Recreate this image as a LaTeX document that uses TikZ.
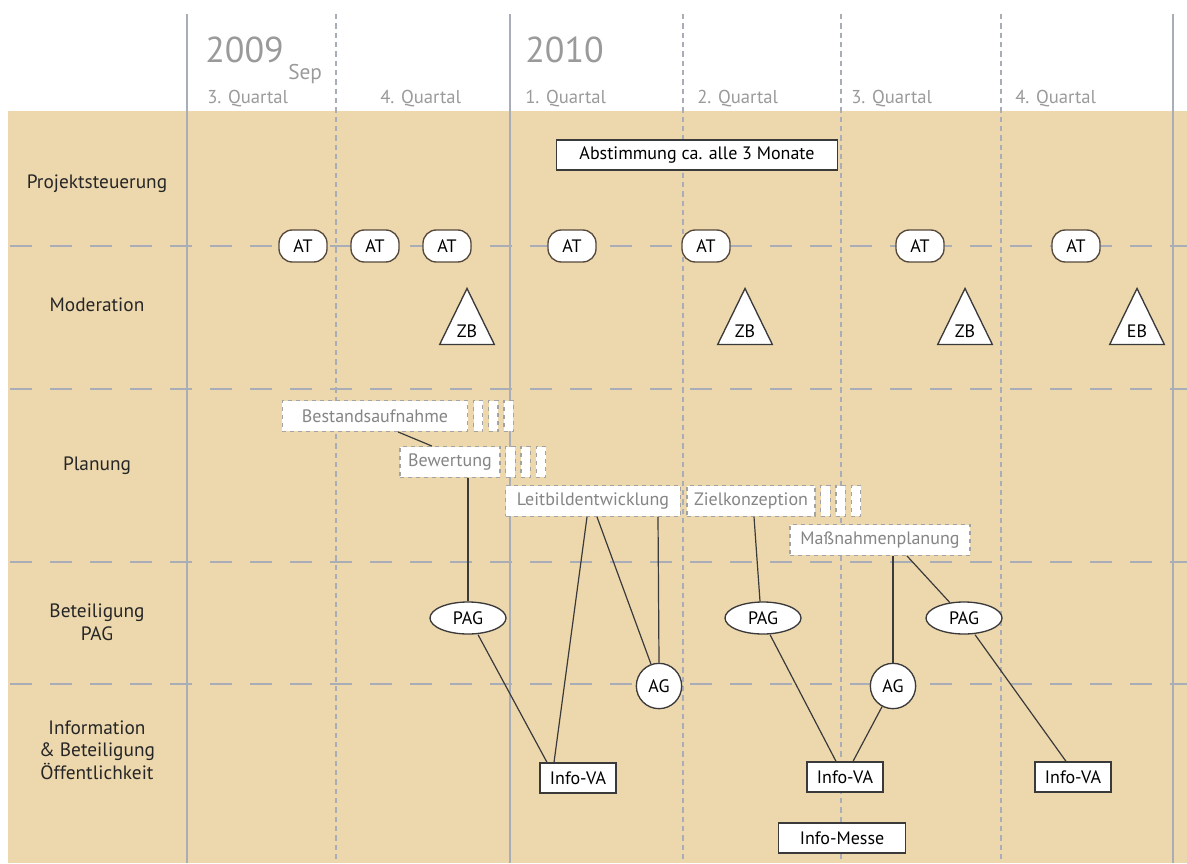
\documentclass[tikz,border=0pt]{standalone}
\usepackage{fontspec}
\setmainfont{PT Sans}
\usepackage{tikz}
\usetikzlibrary{positioning,shapes.geometric,calc}

\definecolor{sand}{HTML}{EDD8AE}
\definecolor{gridgray}{HTML}{A9ADB8}
\definecolor{timegray}{HTML}{9A9A9A}
\definecolor{planline}{HTML}{A3A3A3}
\definecolor{plantext}{HTML}{858585}
\definecolor{edgeline}{HTML}{3A3A3A}

\begin{document}
\begin{tikzpicture}[x=0.75pt,y=-0.75pt,font=\fontsize{13.5}{16}\selectfont,
	grid/.style={gridgray,line width=0.9pt},
	griddash/.style={gridgray,line width=0.8pt,dash pattern=on 4pt off 3pt},
	rowdash/.style={gridgray,line width=0.8pt,dash pattern=on 16.5pt off 13.5pt},
	year/.style={text=timegray,anchor=base west,inner sep=0pt},
	quarter/.style={text=timegray,anchor=base west,inner sep=0pt,font=\fontsize{14}{16}\selectfont},
	row/.style={align=center,text=black!85,font=\fontsize{14.5}{17}\selectfont},
	box/.style={draw=edgeline,fill=white,line width=1pt,minimum height=22.5pt,inner xsep=5pt},
	meet/.style={draw=edgeline!80!brown,fill=white,line width=1pt,rounded corners=10pt,minimum width=36pt,minimum height=24pt},
	tri/.style={draw=edgeline,fill=white,line width=1pt,isosceles triangle,isosceles triangle apex angle=54,shape border rotate=90,isosceles triangle stretches,minimum width=41pt,minimum height=42pt,inner sep=1pt,anchor=apex},
	plan/.style={draw=planline,dashed,fill=white,text=plantext,line width=0.9pt,minimum height=23pt},
	tick/.style={draw=planline,dashed,fill=white,line width=0.9pt,minimum width=7pt,minimum height=23pt,inner sep=0pt},
	pag/.style={ellipse,draw=edgeline,fill=white,line width=1pt,minimum width=57pt,minimum height=24pt,inner sep=0pt},
	ag/.style={circle,draw=edgeline,fill=white,line width=1pt,minimum size=34pt,inner sep=0pt},
	conn/.style={draw=edgeline,line width=0.9pt}] 
	\useasboundingbox (0,0) rectangle (1187,863);
	% background and grid
	\fill[sand] (8,111) rectangle (1187,863);
	\draw[grid] (187,14) -- (187,863) (510,14) -- (510,863) (1173,14) -- (1173,863);
	\draw[griddash] (336,14) -- (336,863) (683,14) -- (683,863) (841,14) -- (841,863) (1001,14) -- (1001,863);
	\draw[rowdash] (10,246) -- (1187,246) (10,389) -- (1187,389) (10,562) -- (1187,562) (10,684) -- (1187,684);
	% time axis
	\node[year,font=\fontsize{27}{30}\selectfont] (y_2009) at (205,63) {2009};
	\node[year,font=\fontsize{16}{18}\selectfont] (sep) at (288,80) {Sep};
	\node[year,font=\fontsize{27}{30}\selectfont] (y_2010) at (525,63) {2010};
	\node[quarter] (q_3a) at (207,104) {3. Quartal};
	\node[quarter] (q_4a) at (380,104) {4. Quartal};
	\node[quarter] (q_1) at (525,104) {1. Quartal};
	\node[quarter] (q_2) at (697,104) {2. Quartal};
	\node[quarter] (q_3b) at (851,104) {3. Quartal};
	\node[quarter] (q_4b) at (1015,104) {4. Quartal};
	% rows
	\node[row] (r_steuer) at (97,184) {Projektsteuerung};
	\node[row] (r_mod) at (97,305) {Moderation};
	\node[row] (r_plan) at (97,466) {Planung};
	\node[row] (r_pag) at (97,622) {Beteiligung\\PAG};
	\node[row] (r_oeff) at (97,750) {Information\\\& Beteiligung\\Öffentlichkeit};
	% Projektsteuerung / Moderation
	\node[box,minimum width=211pt] (abst) at (697,155) {Abstimmung ca. alle 3 Monate};
	\node[meet] (at_1) at (303,246) {AT};
	\node[meet] (at_2) at (375,246) {AT};
	\node[meet] (at_3) at (447,246) {AT};
	\node[meet] (at_4) at (572,246) {AT};
	\node[meet] (at_5) at (706,246) {AT};
	\node[meet] (at_6) at (920,246) {AT};
	\node[meet] (at_7) at (1076,246) {AT};
	\node[tri] (zb_1) at (467,287) {ZB};
	\node[tri] (zb_2) at (745,287) {ZB};
	\node[tri] (zb_3) at (965,287) {ZB};
	\node[tri] (eb) at (1137,287) {EB};
	% Planung
	\node[plan,minimum width=139pt] (bestand) at (375,416) {Bestandsaufnahme};
	\node[tick,right=3.5pt of bestand] (t_a1) {};
	\node[tick,right=3.5pt of t_a1] (t_a2) {};
	\node[tick,right=3.5pt of t_a2] (t_a3) {};
	\node[plan,minimum width=75pt] (bewert) at (450,462) {Bewertung};
	\node[tick,right=3.5pt of bewert] (t_b1) {};
	\node[tick,right=3.5pt of t_b1] (t_b2) {};
	\node[tick,right=3.5pt of t_b2] (t_b3) {};
	\node[plan,minimum width=131pt] (leitbild) at (593,501) {Leitbildentwicklung};
	\node[plan,minimum width=96pt] (ziel) at (751,501) {Zielkonzeption};
	\node[tick,right=3.5pt of ziel] (t_c1) {};
	\node[tick,right=3.5pt of t_c1] (t_c2) {};
	\node[tick,right=3.5pt of t_c2] (t_c3) {};
	\node[plan,minimum width=135pt] (massn) at (880,540) {Maßnahmenplanung};
	% Beteiligung
	\node[pag] (pag_1) at (468,618) {PAG};
	\node[pag] (pag_2) at (763,618) {PAG};
	\node[pag] (pag_3) at (964,618) {PAG};
	\node[ag] (ag_1) at (659,686) {AG};
	\node[ag] (ag_2) at (893,686) {AG};
	\node[box,minimum width=57pt] (va_1) at (578,778) {Info-VA};
	\node[box,minimum width=57pt] (va_2) at (845,777) {Info-VA};
	\node[box,minimum width=57pt] (va_3) at (1073,777) {Info-VA};
	\node[box,minimum width=95pt] (messe) at (842,838) {Info-Messe};
	\path[conn] 
	($(bestand.south)+(23,0)$) edge ($(bewert.north)+(-18,0)$)
	($(bewert.south)+(18,0)$) edge (pag_1.north)
	($(pag_1.south)+(10,0)$) edge ($(va_1.north)+(-31,0)$)
	($(leitbild.south)+(-6,0)$) edge ($(va_1.north)+(-24,0)$)
	($(leitbild.south)+(4,0)$) edge (ag_1)
	($(leitbild.south)+(65,0)$) edge (ag_1.north)
	($(ziel.south)+(3,0)$) edge ($(pag_2.north)+(-3,0)$)
	($(pag_2.south)+(7,0)$) edge ($(va_2.north)+(-9,0)$)
	($(massn.south)+(13,0)$) edge (ag_2.north)
	($(massn.south)+(27,0)$) edge (pag_3)
	($(pag_3.south)+(11,0)$) edge ($(va_3.north)+(-7,0)$)
	(ag_2) edge ($(va_2.north)+(8,0)$);
\end{tikzpicture}
\end{document}
